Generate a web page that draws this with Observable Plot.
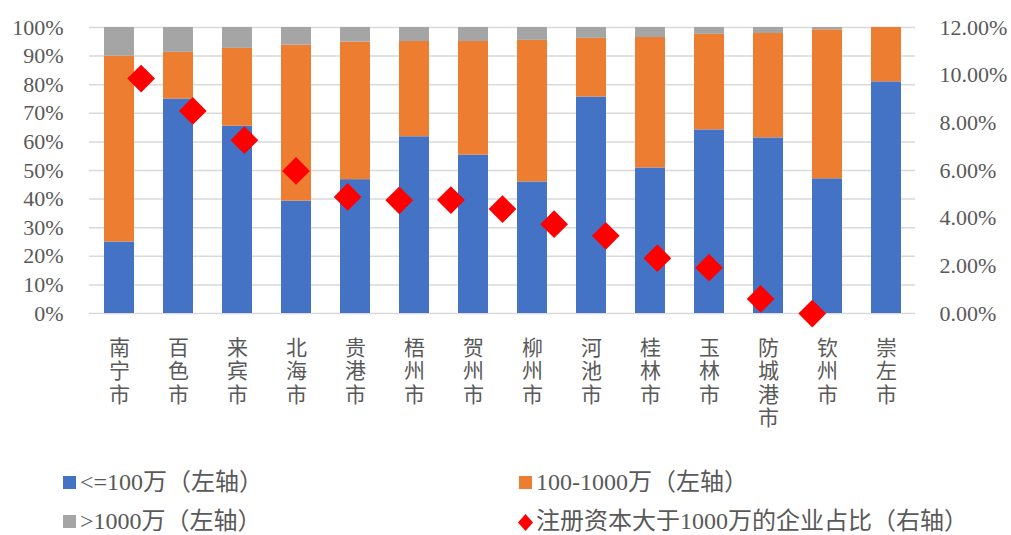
<!DOCTYPE html>
<html>
<head>
<meta charset="utf-8">
<script src="https://cdn.jsdelivr.net/npm/d3@7"></script>
<script src="https://cdn.jsdelivr.net/npm/@observablehq/plot@0.6"></script>
<style>
  body { margin: 0; background: #fff; }
  #chart { position: relative; width: 1011px; height: 535px; overflow: hidden; background: #fff;
           font-family: "Liberation Serif", "Noto Sans CJK SC", serif; color: #595959; }
  #chart svg { position: absolute; left: 0; top: 0; }
  .leg { position: absolute; font-size: 24px; line-height: 24px; white-space: nowrap; color: #595959; }
  .sw { position: absolute; width: 13px; height: 13px; }
</style>
</head>
<body>
<div id="chart"></div>
<script>
// ---- data ----
const cities = ["南宁市","百色市","来宾市","北海市","贵港市","梧州市","贺州市","柳州市","河池市","桂林市","玉林市","防城港市","钦州市","崇左市"];
const seriesNames = ["<=100万（左轴）","100-1000万（左轴）",">1000万（左轴）"];
const small = [25.0,75.0,65.5,39.3,46.8,61.8,55.4,46.0,75.7,50.9,64.2,61.4,47.1,81.0];
const mid   = [65.0,16.3,27.2,54.5,48.1,33.3,39.7,49.5,20.5,45.6,33.4,36.5,52.1,19.0];
const large = [10.0, 8.7, 7.3, 6.2, 5.1, 4.9, 4.9, 4.5, 3.8, 3.5, 2.4, 2.1, 0.8, 0.0];
const ratioName = "注册资本大于1000万的企业占比（右轴）";
const ratio = [9.86,8.50,7.27,5.98,4.89,4.75,4.76,4.38,3.75,3.26,2.32,1.92,0.61,0.00];
const leftTicks = [0,10,20,30,40,50,60,70,80,90,100];
const rightTicks = [0,2,4,6,8,10,12];
const colors = ["#4472C4","#ED7D31","#A5A5A5"];
const ratioColor = "#FF0000";

// ---- build tables ----
const rows = [];
[small, mid, large].forEach((arr, s) => arr.forEach((v, i) => rows.push({city: cities[i], series: seriesNames[s], value: v})));
const pts = ratio.map((v, i) => ({idx: i + 1, value: v}));

const W = 1011, H = 440;
const margins = {marginTop: 27, marginBottom: H - 313, marginLeft: 89, marginRight: W - 915};
const font = {fontFamily: "'Liberation Serif', 'Noto Sans CJK SC', serif", fontSize: "22px", color: "#595959", background: "transparent", overflow: "visible"};

const bars = Plot.plot({
  width: W, height: H, ...margins,
  style: font,
  x: {domain: cities, paddingInner: 0.5, paddingOuter: 0.25, axis: null},
  y: {domain: [0, 100], axis: null},
  color: {domain: seriesNames, range: colors},
  marks: [
    Plot.ruleY(leftTicks, {stroke: "#D9D9D9", strokeWidth: 1.5}),
    Plot.barY(rows, {x: "city", y: "value", fill: "series", inset: 0}),
    Plot.axisY({ticks: leftTicks, tickSize: 0, tickPadding: 26, tickFormat: d => d + "%", label: null, fontSize: 22}),
    Plot.axisX({tickSize: 0, tickPadding: 25, tickFormat: d => [...d].join("\n"), label: null, fontSize: 21, lineHeight: 1.11})
  ]
});

const scatter = Plot.plot({
  width: W, height: H, ...margins,
  style: font,
  x: {domain: [0, 16], axis: null},
  y: {domain: [0, 12], axis: null},
  marks: [
    Plot.dot(pts, {x: "idx", y: "value", symbol: "diamond2", r: 12.5, fill: ratioColor, stroke: "none"}),
    Plot.axisY({anchor: "right", ticks: rightTicks, tickSize: 0, tickPadding: 24, tickFormat: d => d.toFixed(2) + "%", label: null, fontSize: 22})
  ]
});

const root = document.getElementById("chart");
root.appendChild(bars);
root.appendChild(scatter);

// ---- legend ----
const legendItems = [
  {name: seriesNames[0], color: colors[0], x: 63, y: 476, shape: "square"},
  {name: seriesNames[1], color: colors[1], x: 519, y: 476, shape: "square"},
  {name: seriesNames[2], color: colors[2], x: 63, y: 515, shape: "square"},
  {name: ratioName, color: ratioColor, x: 519, y: 515, shape: "diamond"}
];
for (const it of legendItems) {
  if (it.shape === "square") {
    const sw = document.createElement("div");
    sw.className = "sw";
    sw.style.left = it.x + "px"; sw.style.top = it.y + "px"; sw.style.background = it.color;
    root.appendChild(sw);
  } else {
    const s = d3.create("svg").attr("width", 15).attr("height", 17)
      .style("left", (it.x - 1) + "px").style("top", (it.y - 1) + "px");
    s.append("path").attr("d", "M7.5,0L15,8.5L7.5,17L0,8.5Z").attr("fill", it.color);
    root.appendChild(s.node());
  }
  const t = document.createElement("div");
  t.className = "leg";
  t.textContent = it.name;
  t.style.left = (it.x + 17) + "px";
  t.style.top = (it.y - 6) + "px";
  root.appendChild(t);
}
</script>
</body>
</html>
